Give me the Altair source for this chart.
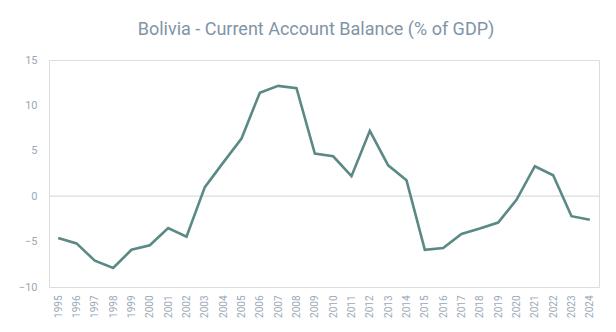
import altair as alt
import pandas as pd

years = [str(y) for y in range(1995, 2025)]
values = [-4.6, -5.2, -7.1, -7.9, -5.9, -5.4, -3.5, -4.45, 1.0, 3.7,
          6.35, 11.4, 12.15, 11.9, 4.7, 4.4, 2.2, 7.2, 3.4, 1.75,
          -5.9, -5.7, -4.15, -3.55, -2.9, -0.4, 3.3, 2.3, -2.2, -2.6]

df = pd.DataFrame({"year": years, "value": values})
zero = pd.DataFrame({"z": [0]})

label_color = "#9aa8b6"

line = alt.Chart(df).mark_line(color="#5b8985", strokeWidth=2.6).encode(
    x=alt.X("year:O", title=None, sort=None,
            axis=alt.Axis(labelAngle=-90, labelColor=label_color, labelFontSize=10,
                          labelPadding=8, ticks=False, domain=False, labelFont="Roboto")),
    y=alt.Y("value:Q", title=None,
            scale=alt.Scale(domain=[-10, 15], nice=False),
            axis=alt.Axis(values=[-10, -5, 0, 5, 10, 15], labelColor=label_color,
                          labelFontSize=11, labelPadding=12, ticks=False, domain=False,
                          grid=False, labelFont="Roboto")),
)

rule = alt.Chart(zero).mark_rule(color="#dcdcdc", strokeWidth=1.2).encode(y="z:Q")

chart = (rule + line).properties(
    width=550, height=227,
    title=alt.Title("Bolivia - Current Account Balance (% of GDP)", fontSize=18,
                    font="Roboto", fontWeight="normal", color="#7f94a6",
                    offset=15, dx=-8),
    autosize=alt.AutoSizeParams(type="none"),
    padding={"left": 49, "top": 60, "right": 17, "bottom": 45},
).configure_view(stroke=None).configure(background="white")

chart.save("out.html", embed_options={"renderer": "svg", "actions": False})
